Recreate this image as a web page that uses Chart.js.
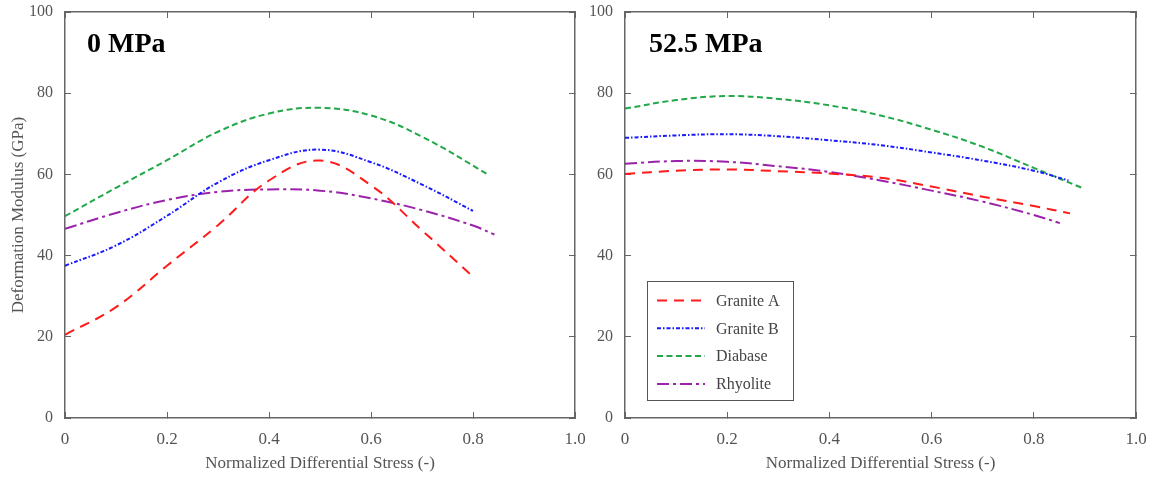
<!DOCTYPE html>
<html>
<head>
<meta charset="utf-8">
<script src="https://cdn.jsdelivr.net/npm/chart.js@4.4.1/dist/chart.umd.min.js"></script>
<style>
  html, body { margin: 0; padding: 0; background: #fff; }
  #wrap { position: relative; width: 1151px; height: 479px; overflow: hidden; }
  canvas { position: absolute; top: 0; }
  .panel-label {
    position: absolute; font-family: "Liberation Serif", serif; font-weight: bold;
    font-size: 28px; color: #000; line-height: 1;
  }
</style>
</head>
<body>
<div id="wrap">
  <canvas id="left" width="590" height="479" style="left:0"></canvas>
  <canvas id="right" width="591" height="479" style="left:560px"></canvas>
  <div class="panel-label" style="left:87px; top:29px">0 MPa</div>
  <div class="panel-label" style="left:649px; top:29px">52.5 MPa</div>
</div>
<script>
"use strict";

/* tick values and labels */
var xTickLabels = ['0', '0.2', '0.4', '0.6', '0.8', '1.0'];
var yTickLabels = ['0', '20', '40', '60', '80', '100'];
var seriesNames = ['Granite A', 'Granite B', 'Diabase', 'Rhyolite'];

/* 0 MPa panel */
var stress0A = [0, 0.1, 0.2, 0.3, 0.4, 0.5, 0.6, 0.7, 0.8];
var graniteA0 = [20.5, 27.3, 37.5, 47.5, 58.5, 63.4, 57.3, 46.2, 34.8];
var stress0B = [0, 0.1, 0.2, 0.3, 0.4, 0.5, 0.6, 0.7, 0.8];
var graniteB0 = [37.5, 42.5, 49.8, 58.0, 63.5, 66.1, 63.0, 57.5, 51.0];
var stress0D = [0, 0.1, 0.2, 0.3, 0.4, 0.5, 0.6, 0.7, 0.832];
var diabase0 = [49.7, 56.7, 63.5, 70.5, 75.0, 76.4, 74.5, 69.3, 59.8];
var stress0R = [0, 0.1, 0.2, 0.3, 0.4, 0.5, 0.6, 0.7, 0.8, 0.842];
var rhyolite0 = [46.6, 50.5, 53.7, 55.7, 56.3, 56.0, 54.1, 51.2, 47.4, 45.2];

/* 52.5 MPa panel */
var stress52A = [0, 0.1, 0.2, 0.3, 0.4, 0.5, 0.6, 0.7, 0.8, 0.871];
var graniteA52 = [60.1, 60.9, 61.2, 60.8, 60.2, 59.2, 57.0, 54.5, 52.2, 50.4];
var stress52B = [0, 0.1, 0.2, 0.3, 0.4, 0.5, 0.6, 0.7, 0.8, 0.868];
var graniteB52 = [69.0, 69.6, 69.9, 69.4, 68.4, 67.2, 65.4, 63.4, 60.9, 58.5];
var stress52D = [0, 0.1, 0.2, 0.3, 0.4, 0.5, 0.6, 0.7, 0.8, 0.894];
var diabase52 = [76.2, 78.3, 79.3, 78.6, 77.0, 74.5, 71.0, 66.8, 61.6, 56.7];
var stress52R = [0, 0.1, 0.2, 0.3, 0.4, 0.5, 0.6, 0.7, 0.8, 0.851];
var rhyolite52 = [62.6, 63.3, 63.1, 62.0, 60.6, 58.5, 56.0, 53.3, 50.0, 48.0];

var lineColors = ['#ff1a1a', '#1a1aff', '#22a84a', '#9b22aa'];
var lineDashes = [[10, 7], [4, 2, 1.5, 2], [6, 3.5], [12, 4, 3, 4]];

var serif = '"Liberation Serif", "Times New Roman", serif';
var axisGray = '#666';
var textGray = '#555';

function toPoints(xs, ys) {
    return xs.map(function (x, i) { return { x: x, y: ys[i] }; });
}

function makeDatasets(list) {
    return list.map(function (s, i) {
        return {
            label: seriesNames[i],
            data: toPoints(s[0], s[1]),
            borderColor: lineColors[i],
            backgroundColor: lineColors[i],
            borderWidth: 2,
            borderDash: lineDashes[i],
            pointRadius: 0,
            tension: 0.4,
            fill: false
        };
    });
}

/* legend box drawn inside the plot area */
var boxLegend = {
    id: 'boxLegend',
    afterDraw: function (chart, args, opts) {
        if (!opts.show) return;
        var ctx = chart.ctx;
        var area = chart.chartArea;
        var x0 = area.left + 22, y0 = area.top + 269, w = 146, h = 119;
        ctx.save();
        ctx.strokeStyle = textGray;
        ctx.lineWidth = 1;
        ctx.strokeRect(x0 + 0.5, y0 + 0.5, w, h);
        ctx.font = '16px ' + serif;
        ctx.textBaseline = 'middle';
        chart.data.datasets.forEach(function (ds, i) {
            var y = y0 + 19.5 + i * 27.8;
            ctx.beginPath();
            ctx.setLineDash(ds.borderDash);
            ctx.strokeStyle = ds.borderColor;
            ctx.lineWidth = 2;
            ctx.moveTo(x0 + 10, y);
            ctx.lineTo(x0 + 58, y);
            ctx.stroke();
            ctx.setLineDash([]);
            ctx.fillStyle = '#444';
            ctx.fillText(ds.label, x0 + 69, y + 1);
        });
        ctx.restore();
    }
};

function makeChart(id, datasets, showYTitle, showLegend) {
    /* fixed axis sizes, and no extra room for the end labels */
    var fixedWidth = function (w) {
        return function (scale) { scale.width = w; scale.paddingTop = 0; scale.paddingBottom = 0; };
    };
    var fixedHeight = function (h) {
        return function (scale) { scale.height = h; scale.paddingLeft = 0; scale.paddingRight = 0; };
    };
    var gridOpts = { display: true, drawOnChartArea: false, drawTicks: true, tickLength: -6, color: axisGray, lineWidth: 1 };
    var borderOpts = { display: true, color: axisGray, width: 1.5 };

    return new Chart(document.getElementById(id).getContext('2d'), {
        type: 'line',
        data: { datasets: datasets },
        plugins: [boxLegend],
        options: {
            responsive: false,
            animation: false,
            layout: { padding: { top: 12, right: 15, bottom: 0, left: 0 } },
            plugins: {
                legend: { display: false },
                tooltip: { enabled: false },
                boxLegend: { show: showLegend }
            },
            scales: {
                x: {
                    type: 'linear', position: 'bottom', min: 0, max: 1,
                    afterFit: fixedHeight(61),
                    grid: gridOpts, border: borderOpts,
                    ticks: {
                        stepSize: 0.2, maxRotation: 0, autoSkip: false, padding: 17,
                        color: textGray, font: { family: serif, size: 17 },
                        callback: function (v) { return xTickLabels[Math.round(v * 5)]; }
                    },
                    title: {
                        display: true, text: 'Normalized Differential Stress (-)',
                        color: textGray, font: { family: serif, size: 17 },
                        padding: { top: 0, bottom: 5 }
                    }
                },
                x2: {
                    type: 'linear', position: 'top', min: 0, max: 1,
                    afterFit: fixedHeight(0),
                    grid: gridOpts, border: borderOpts,
                    ticks: { stepSize: 0.2, display: false }
                },
                y: {
                    type: 'linear', position: 'left', min: 0, max: 100,
                    afterFit: fixedWidth(65),
                    grid: gridOpts, border: borderOpts,
                    ticks: {
                        stepSize: 20, padding: 18,
                        color: textGray, font: { family: serif, size: 16 },
                        callback: function (v) { return yTickLabels[Math.round(v / 20)]; }
                    },
                    title: {
                        display: showYTitle, text: 'Deformation Modulus (GPa)',
                        color: textGray, font: { family: serif, size: 17 },
                        padding: { top: 8, bottom: 0 }
                    }
                },
                y2: {
                    type: 'linear', position: 'right', min: 0, max: 100,
                    afterFit: fixedWidth(0),
                    grid: gridOpts, border: borderOpts,
                    ticks: { stepSize: 20, display: false }
                }
            }
        }
    });
}

document.addEventListener("DOMContentLoaded", function () {
    makeChart('left', makeDatasets([
        [stress0A, graniteA0],
        [stress0B, graniteB0],
        [stress0D, diabase0],
        [stress0R, rhyolite0]
    ]), true, false);

    makeChart('right', makeDatasets([
        [stress52A, graniteA52],
        [stress52B, graniteB52],
        [stress52D, diabase52],
        [stress52R, rhyolite52]
    ]), false, true);
});
</script>
</body>
</html>
